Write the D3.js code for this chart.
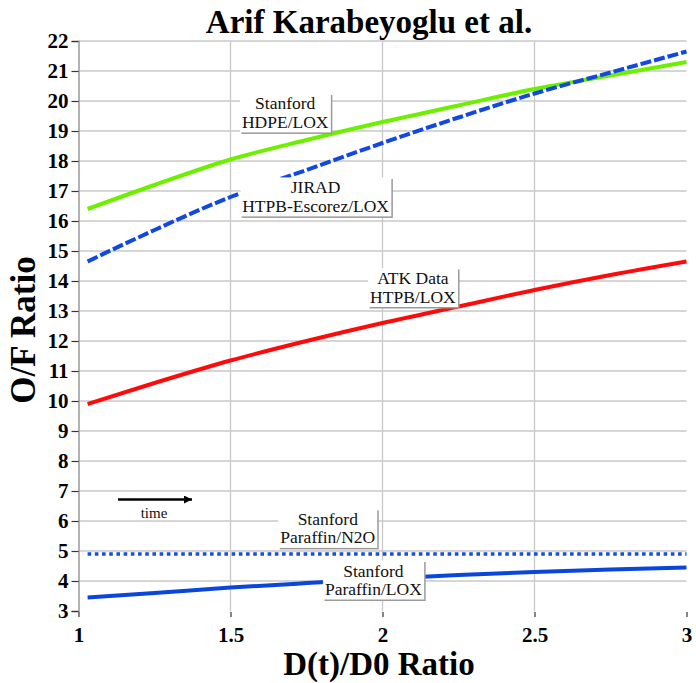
<!DOCTYPE html>
<html>
<head>
<meta charset="utf-8">
<script src="https://cdn.jsdelivr.net/npm/d3@7"></script>
<style>
  html, body { margin: 0; padding: 0; background: #fff; }
  svg { display: block; }
</style>
</head>
<body>
<svg id="chart" width="696" height="683"></svg>
<script>
// Diameter ratio samples shared by all curves
const diameterRatio = [1.03, 1.25, 1.5, 1.75, 2.0, 2.25, 2.5, 2.75, 3.0];

// O/F ratio for each propellant combination
const hdpeLox      = [16.4, 17.2, 18.05, 18.7, 19.3, 19.85, 20.4, 20.85, 21.3];
const jiradLox     = [14.65, 15.7, 16.8, 17.7, 18.6, 19.45, 20.25, 20.95, 21.65];
const atkLox       = [9.9, 10.6, 11.35, 12.0, 12.6, 13.15, 13.7, 14.2, 14.65];
const paraffinN2O  = [4.9, 4.9, 4.9, 4.9, 4.9, 4.9, 4.9, 4.9, 4.9];
const paraffinLox  = [3.45, 3.6, 3.78, 3.93, 4.07, 4.2, 4.3, 4.38, 4.45];

// Axis ticks
const xTicks = [1, 1.5, 2, 2.5, 3];
const xTickLabels = ["1", "1.5", "2", "2.5", "3"];
const yTicks = d3.range(3, 23);

// Callout text for each curve
const labelLines = [
  ["Stanford", "HDPE/LOX"],
  ["JIRAD", "HTPB-Escorez/LOX"],
  ["ATK Data", "HTPB/LOX"],
  ["Stanford", "Paraffin/N2O"],
  ["Stanford", "Paraffin/LOX"]
];
// Callout anchors (data coordinates of the box centre)
const labelAnchorX = [1.68, 1.78, 2.10, 1.82, 1.97];
const labelAnchorY = [19.62, 16.82, 13.8, 5.77, 4.05];

const SERIF = "'Liberation Serif', 'Times New Roman', serif";

const svg = d3.select("#chart");
const plotLeft = 78.5, plotRight = 686.5, plotTop = 41, plotBottom = 611;

const x = d3.scaleLinear().domain([1, 3]).range([plotLeft, plotRight]);
const y = d3.scaleLinear().domain([3, 22]).range([plotBottom, plotTop]);

// Grid
const grid = svg.append("g");
grid.selectAll("line.h").data(yTicks.filter(d => d > 3)).join("line")
  .attr("x1", plotLeft).attr("x2", plotRight)
  .attr("y1", d => y(d)).attr("y2", d => y(d))
  .attr("stroke", "#c8c8c8").attr("stroke-width", 1.3);
grid.selectAll("line.v").data(xTicks.filter(d => d > 1 && d < 3)).join("line")
  .attr("x1", d => x(d)).attr("x2", d => x(d))
  .attr("y1", plotTop).attr("y2", plotBottom)
  .attr("stroke", "#c8c8c8").attr("stroke-width", 1.3);

// Left axis
const yAxis = d3.axisLeft(y).tickValues(yTicks).tickSize(7).tickPadding(3).tickFormat(d3.format("d"));
const gy = svg.append("g").attr("transform", `translate(${plotLeft},0)`).call(yAxis);
gy.attr("font-family", null);
gy.select(".domain").attr("stroke", "#999").attr("stroke-width", 1.5);
gy.selectAll(".tick line").attr("stroke", "#333").attr("stroke-width", 1.2);
gy.selectAll(".tick text")
  .style("font-family", SERIF)
  .attr("font-weight", "bold").attr("font-size", 21).attr("fill", "#000")
  .attr("dy", "0.33em");

// Bottom axis (ticks only, no base line)
const xAxis = d3.axisBottom(x).tickValues(xTicks).tickSize(5)
  .tickFormat((d, i) => xTickLabels[i]).tickPadding(10);
const gx = svg.append("g").attr("transform", `translate(0,${plotBottom + 1})`).call(xAxis);
gx.attr("font-family", null);
gx.select(".domain").remove();
gx.selectAll(".tick line").attr("stroke", "#333").attr("stroke-width", 1.2);
gx.selectAll(".tick text")
  .style("font-family", SERIF)
  .attr("font-weight", "bold").attr("font-size", 21).attr("fill", "#000");

// Curves
const line = d3.line().x(d => x(d[0])).y(d => y(d[1])).curve(d3.curveMonotoneX);
const series = [
  { values: paraffinN2O, color: "#1550e0", dash: "3.6,3.6", width: 3.6 },
  { values: paraffinLox, color: "#0a46dc", dash: null, width: 4 },
  { values: atkLox, color: "#ff0a0a", dash: null, width: 4 },
  { values: hdpeLox, color: "#6cf000", dash: null, width: 4 },
  { values: jiradLox, color: "#1048e0", dash: "11,3", width: 4 }
];
series.forEach(s => {
  svg.append("path")
    .datum(diameterRatio.map((d, i) => [d, s.values[i]]))
    .attr("d", line)
    .attr("fill", "none")
    .attr("stroke", s.color)
    .attr("stroke-width", s.width)
    .attr("stroke-dasharray", s.dash);
});

// Callout boxes
labelLines.forEach((lines, i) => {
  const cx = x(labelAnchorX[i]), cy = y(labelAnchorY[i]);
  const g = svg.append("g");
  const t = g.append("text")
    .style("font-family", SERIF)
    .attr("text-anchor", "middle")
    .attr("font-size", 17.5).attr("fill", "#111");
  lines.forEach((s, j) => {
    t.append("tspan").attr("x", cx).attr("y", cy - 3 + j * 18.5).text(s);
  });
  const bb = t.node().getBBox();
  const bx = bb.x - 2, by = cy - 19, bw = bb.width + 4, bh = 39;
  g.insert("rect", "text").attr("x", bx + 1.5).attr("y", by + 1.5)
    .attr("width", bw).attr("height", bh).attr("fill", "#9a9a9a");
  g.insert("rect", "text").attr("x", bx).attr("y", by)
    .attr("width", bw).attr("height", bh).attr("fill", "#fff");
});

// Time arrow
const defs = svg.append("defs");
defs.append("marker").attr("id", "arrowhead")
  .attr("viewBox", "0 0 10 10").attr("refX", 10).attr("refY", 5)
  .attr("markerWidth", 4).attr("markerHeight", 3.2)
  .attr("markerUnits", "strokeWidth").attr("orient", "auto")
  .append("path").attr("d", "M0,0 L10,5 L0,10 Z").attr("fill", "#000");
svg.append("line")
  .attr("x1", 118).attr("x2", 192).attr("y1", 499.5).attr("y2", 499.5)
  .attr("stroke", "#000").attr("stroke-width", 2.5)
  .attr("marker-end", "url(#arrowhead)");
svg.append("text").attr("x", 154).attr("y", 518)
  .style("font-family", SERIF)
  .attr("text-anchor", "middle").attr("font-size", 15).attr("fill", "#111")
  .text("time");

// Title and axis titles
svg.append("text").attr("x", 369).attr("y", 33)
  .style("font-family", SERIF)
  .attr("text-anchor", "middle").attr("font-weight", "bold").attr("font-size", 33)
  .text("Arif Karabeyoglu et al.");
svg.append("text").attr("x", 379).attr("y", 675)
  .style("font-family", SERIF)
  .attr("text-anchor", "middle").attr("font-weight", "bold").attr("font-size", 33)
  .text("D(t)/D0 Ratio");
svg.append("text")
  .attr("transform", "translate(35,330) rotate(-90)")
  .style("font-family", SERIF)
  .attr("text-anchor", "middle").attr("font-weight", "bold").attr("font-size", 35)
  .text("O/F Ratio");
</script>
</body>
</html>
